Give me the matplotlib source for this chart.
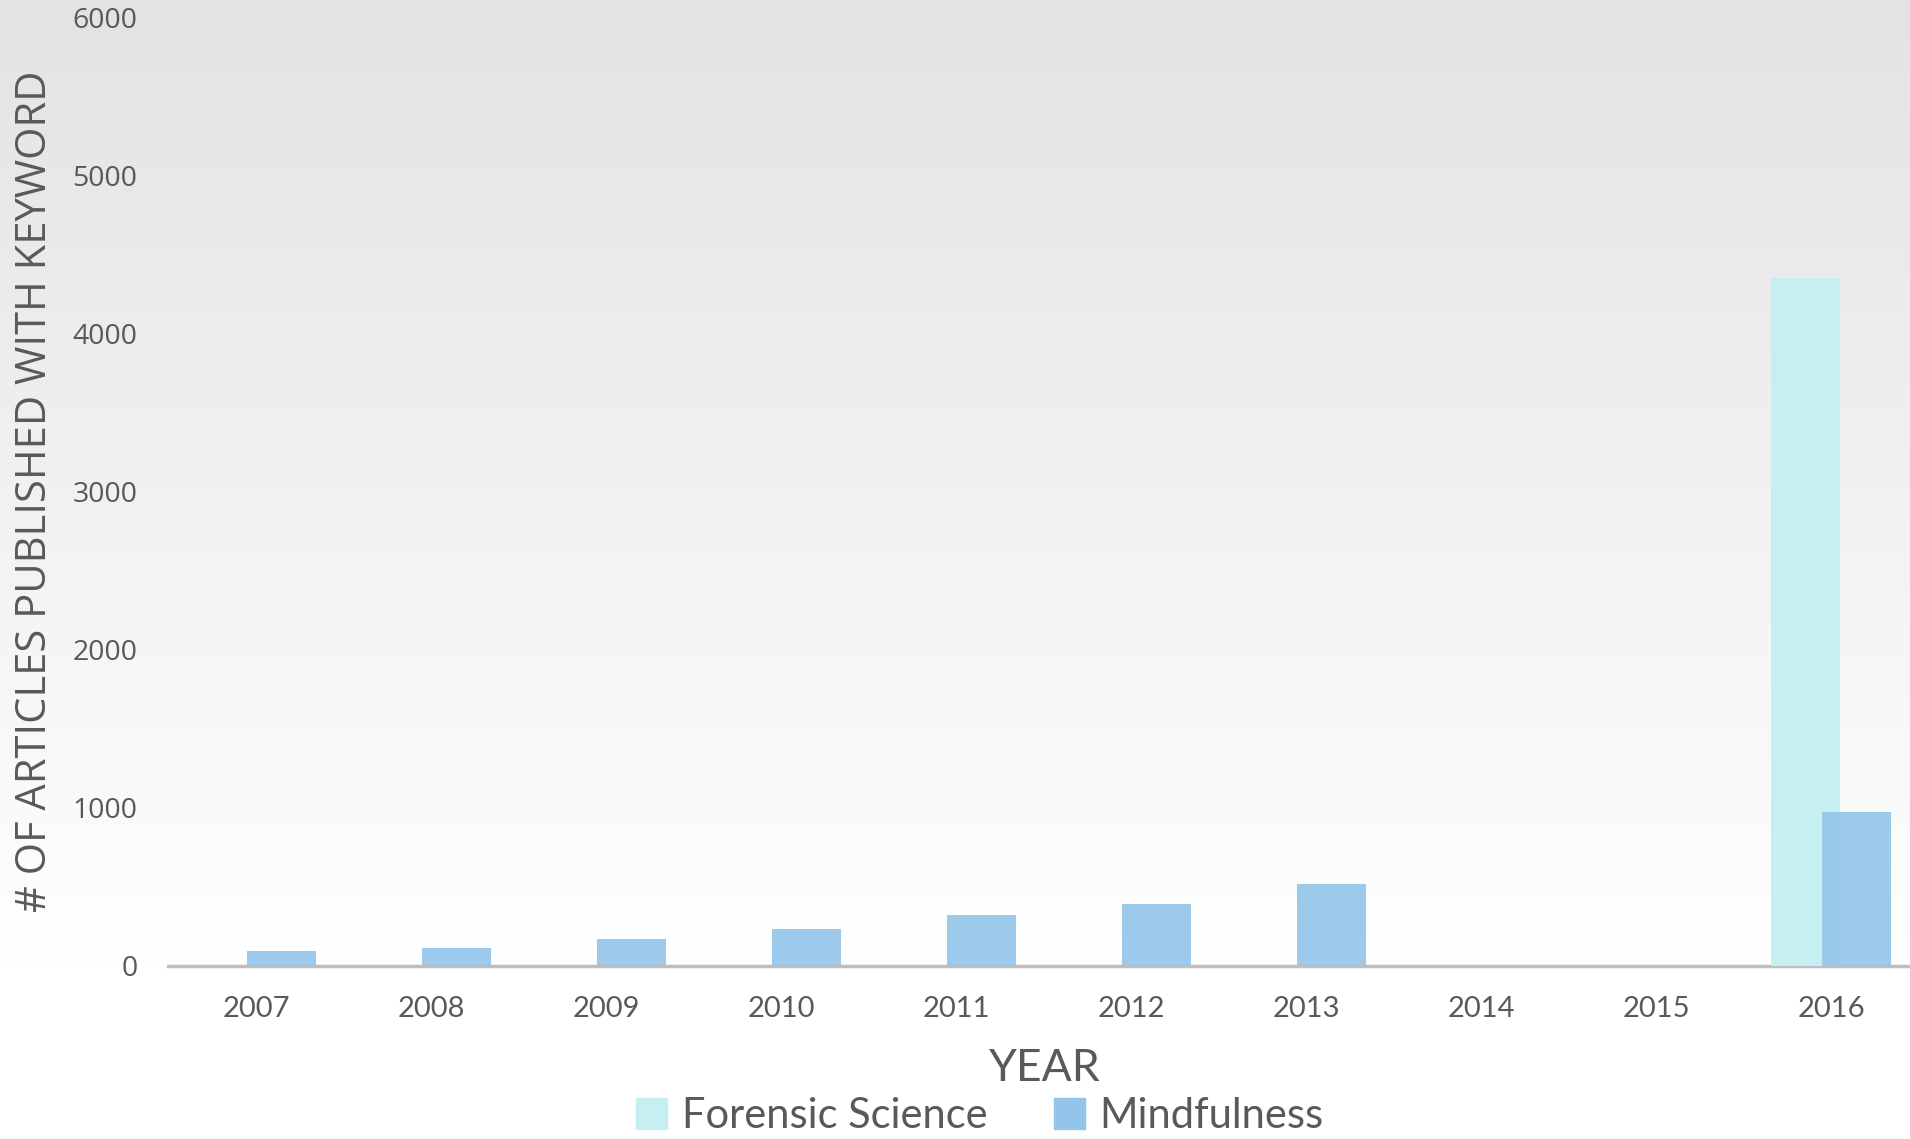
import numpy as np
import matplotlib
matplotlib.use("Agg")
import matplotlib.pyplot as plt
from matplotlib.patches import Patch

years = ['2007', '2008', '2009', '2010', '2011', '2012', '2013', '2014', '2015', '2016']
forensic = [0, 0, 0, 0, 0, 0, 0, 0, 0, 4350]
mindfulness = [95, 114, 170, 234, 322, 392, 518, 0, 0, 973]

c_forensic = '#C5EFF0'
c_mind = '#93C5EA'
txt = '#595959'

fig = plt.figure(figsize=(19.1, 11.39), dpi=100)

# fondo degradado
bg = fig.add_axes([0, 0, 1, 1], zorder=0)
grad = np.linspace(0, 1, 256).reshape(-1, 1)
grad = np.clip(grad / 0.85, 0, 1)
cols = np.zeros((256, 1, 3))
top = np.array([0xE3, 0xE3, 0xE3]) / 255
bot = np.array([1.0, 1.0, 1.0])
for k in range(3):
    cols[:, 0, k] = top[k] + (bot[k] - top[k]) * grad[:, 0]
bg.imshow(cols, aspect='auto', extent=[0, 1, 0, 1], origin='upper')
bg.axis('off')

ax = fig.add_axes([0.088, 0.152, 0.912, 0.833], zorder=1)
ax.set_facecolor('none')

x = np.arange(len(years))
w = 0.394
off = 0.146
ax.bar(x - off, forensic, w, color=c_forensic, zorder=2)
ax.bar(x + off, mindfulness, w, color=c_mind, alpha=0.9, zorder=3)

ax.set_xlim(-0.503, 9.45)
ax.set_ylim(0, 6000)
ax.set_yticks([0, 1000, 2000, 3000, 4000, 5000, 6000])
ax.set_xticks(x)
ax.set_xticklabels(years, fontfamily='Lato', fontsize=21, color=txt)
for lab in ax.get_yticklabels():
    lab.set_fontfamily('Open Sans')
    lab.set_fontsize(20.5)
    lab.set_color(txt)
ax.tick_params(axis='both', length=0)
ax.tick_params(axis='y', pad=22)
ax.tick_params(axis='x', pad=22)

for s in ['top', 'right', 'left']:
    ax.spines[s].set_visible(False)
ax.spines['bottom'].set_color('#BFBFBF')
ax.spines['bottom'].set_linewidth(2.5)
ax.spines['bottom'].set_zorder(1)

ax.set_ylabel('# OF ARTICLES PUBLISHED WITH KEYWORD', fontfamily='Open Sans',
              fontsize=30, color=txt, labelpad=12)
fig.text(0.547, 0.062, 'YEAR', fontfamily='Lato', fontsize=32, color=txt,
         ha='center', va='center')

handles = [Patch(color=c_forensic, label='Forensic Science'),
           Patch(color=c_mind, label='Mindfulness')]
fig.legend(handles=handles, loc='center', bbox_to_anchor=(0.513, 0.02),
           ncol=2, frameon=False, prop={'family': 'Lato', 'size': 30},
           labelcolor=txt, handlelength=0.75, handleheight=0.75,
           handletextpad=0.35, columnspacing=1.6)

fig.savefig('out.png', dpi=100)
